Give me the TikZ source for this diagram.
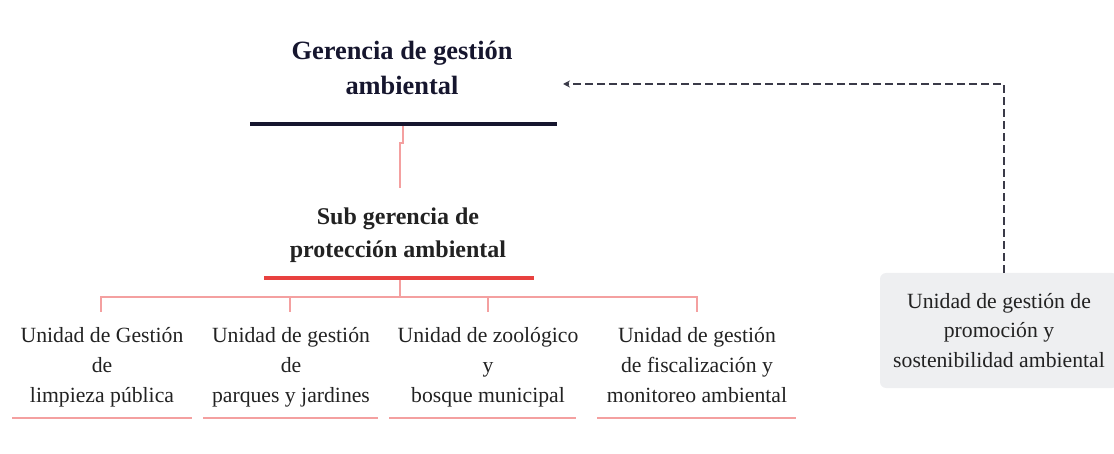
\documentclass[tikz,border=0pt]{standalone}
\usepackage{fontspec}
\setmainfont{Liberation Serif}
\usetikzlibrary{arrows.meta}
\definecolor{navy}{HTML}{16162E}
\definecolor{redbar}{HTML}{E8413F}
\definecolor{pinkline}{HTML}{F4A0A0}
\definecolor{boxgray}{HTML}{EEEFF1}
\definecolor{txt}{HTML}{222222}
\definecolor{dashcol}{HTML}{3A3A48}
\begin{document}
\begin{tikzpicture}[x=1pt,y=-1pt,
  titletext/.style={align=center,font=\fontsize{26.4}{35}\selectfont\bfseries,text=navy,inner sep=0pt,anchor=base},
  subtext/.style={align=center,font=\fontsize{24}{33}\selectfont\bfseries,text=txt,inner sep=0pt,anchor=base},
  leaftext/.style={align=center,font=\fontsize{21.7}{29.5}\selectfont,text=txt,inner sep=0pt,anchor=base},
  boxtext/.style={align=center,font=\fontsize{21.7}{29.5}\selectfont,text=txt,inner sep=0pt,anchor=base},
  graybox/.style={fill=boxgray,rounded corners=6pt},
  conn/.style={draw=pinkline,line width=1.1pt},
  under/.style={draw=pinkline,line width=1.1pt},
  dashconn/.style={draw=dashcol,line width=1.8pt,dash pattern=on 8pt off 4pt,-{Stealth[length=7pt,width=7pt]}}
]
\useasboundingbox (0,0) rectangle (1114,454);
% right box background
\path[graybox] (880,273) rectangle (1118,388);
% top
\node[titletext] (g) at (402,95) {Gerencia de gestión\\ambiental};
\draw[navy,line width=4pt] (250,124) -- (557,124);
\coordinate (gb) at (403,126);
% sub
\node[subtext] (s) at (398,258) {Sub gerencia de\\protección ambiental};
\coordinate (st) at (400,188);
\draw[redbar,line width=3.5pt] (264,278) -- (534,278);
\coordinate (sb) at (400,280);
\draw[conn] (gb) -- (403,143) -- (400,143) -- (st);
% leaves
\node[leaftext] (l1) at (102,402) {Unidad de Gestión\\de\\limpieza pública};
\node[leaftext] (l2) at (291,402) {Unidad de gestión\\de\\parques y jardines};
\node[leaftext] (l3) at (488,402) {Unidad de zoológico\\y\\bosque municipal};
\node[leaftext] (l4) at (697,402) {Unidad de gestión\\de fiscalización y\\monitoreo ambiental};
\coordinate (t1) at (101,312);
\coordinate (t2) at (290,312);
\coordinate (t3) at (488,312);
\coordinate (t4) at (697,312);
\coordinate (bus) at (400,297);
\draw[conn] (sb) -- (bus);
\draw[conn] (t1) |- (bus) -| (t4);
\draw[conn] (t2) -- (t2 |- bus);
\draw[conn] (t3) -- (t3 |- bus);
\draw[under] (12,418) -- (192,418);
\draw[under] (203,418) -- (378,418);
\draw[under] (389,418) -- (576,418);
\draw[under] (597,418) -- (796,418);
% right box text
\node[boxtext] (r) at (999,367) {Unidad de gestión de\\promoción y\\sostenibilidad ambiental};
\coordinate (rt) at (1004,273);
\coordinate (ga) at (563,84);
\draw[dashconn] (rt) -- (1004,84) -- (ga);
\end{tikzpicture}
\end{document}
